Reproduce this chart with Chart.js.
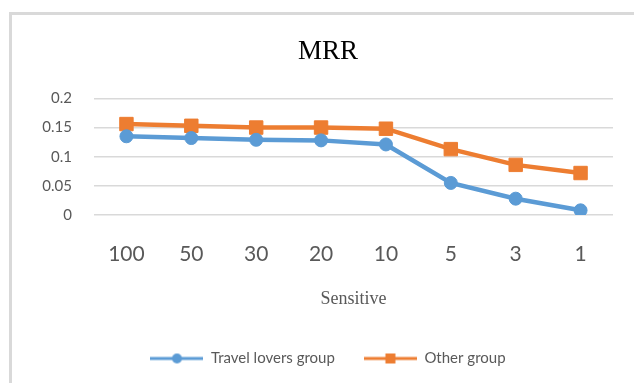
<!DOCTYPE html>
<html>
<head>
<meta charset="utf-8">
<title>MRR</title>
<script src="https://cdn.jsdelivr.net/npm/chart.js@4/dist/chart.umd.min.js"></script>
<style>
  html, body { margin: 0; padding: 0; background: #ffffff; overflow: hidden; }
  #wrap { position: absolute; left: 0; top: 0; width: 656px; height: 383px; }
</style>
</head>
<body>
<div id="wrap"><canvas id="chart" width="656" height="383"></canvas></div>
<script>
// Sensitivity settings along the x axis
const categories = ['100', '50', '30', '20', '10', '5', '3', '1'];
// MRR values per group
const travelLovers = [0.135, 0.132, 0.129, 0.128, 0.121, 0.055, 0.028, 0.008];
const otherGroup   = [0.156, 0.153, 0.150, 0.150, 0.148, 0.113, 0.086, 0.072];
const seriesNames  = ['Travel lovers group', 'Other group'];
const yTicks       = [0, 0.05, 0.1, 0.15, 0.2];

const BLUE = '#5B9BD5';
const ORANGE = '#ED7D31';
const GREY_TEXT = '#595959';
const GRID = '#d9d9d9';

// Small line-plus-marker swatch used in the legend
function legendSwatch(color, shape) {
  const c = document.createElement('canvas');
  c.width = 53; c.height = 16;
  const g = c.getContext('2d');
  g.strokeStyle = color; g.lineWidth = 3;
  g.beginPath(); g.moveTo(0, 8); g.lineTo(53, 8); g.stroke();
  g.fillStyle = color;
  if (shape === 'circle') {
    g.beginPath(); g.arc(26.5, 8, 5, 0, Math.PI * 2); g.fill();
  } else {
    g.fillRect(21.5, 3, 10, 10);
  }
  return c;
}

// Frame lines at the left and top of the chart
const framePlugin = {
  id: 'frame',
  beforeDraw(chart) {
    const ctx = chart.ctx;
    ctx.save();
    ctx.fillStyle = '#ffffff';
    ctx.fillRect(0, 0, chart.width, chart.height);
    ctx.strokeStyle = GRID;
    ctx.lineWidth = 3;
    ctx.beginPath();
    ctx.moveTo(10.5, chart.height + 5);
    ctx.lineTo(10.5, 13.5);
    ctx.lineTo(chart.width + 5, 13.5);
    ctx.stroke();
    ctx.restore();
  }
};

const swatches = [legendSwatch(BLUE, 'circle'), legendSwatch(ORANGE, 'rect')];

new Chart(document.getElementById('chart'), {
  type: 'line',
  data: {
    labels: categories,
    datasets: [
      {
        label: seriesNames[0],
        data: travelLovers,
        borderColor: BLUE,
        backgroundColor: BLUE,
        borderWidth: 4.5,
        pointStyle: 'circle',
        pointRadius: 6.5,
        pointBorderWidth: 1,
        pointBackgroundColor: BLUE,
        pointBorderColor: BLUE,
        tension: 0
      },
      {
        label: seriesNames[1],
        data: otherGroup,
        borderColor: ORANGE,
        backgroundColor: ORANGE,
        borderWidth: 4.5,
        pointStyle: 'rect',
        pointRadius: 9.5,
        pointBorderWidth: 1,
        pointBackgroundColor: ORANGE,
        pointBorderColor: ORANGE,
        tension: 0
      }
    ]
  },
  options: {
    responsive: false,
    animation: false,
    devicePixelRatio: 1,
    layout: { padding: { left: 0, right: 0, top: 0, bottom: 7 } },
    scales: {
      x: {
        offset: true,
        grid: { display: false, drawTicks: false },
        border: { display: false },
        ticks: { color: GREY_TEXT, padding: 27, font: { family: 'Lato', size: 21 } },
        title: {
          display: true,
          text: 'Sensitive',
          color: GREY_TEXT,
          font: { family: 'Liberation Serif', size: 18 },
          padding: { top: 22, bottom: 12 }
        },
        afterFit(scale) { scale.height = 107; }
      },
      y: {
        min: 0,
        max: 0.2,
        afterBuildTicks(scale) { scale.ticks = yTicks.map(v => ({ value: v })); },
        grid: { color: GRID, lineWidth: 1.5, drawTicks: false },
        border: { display: false },
        ticks: {
          color: GREY_TEXT,
          padding: 22,
          font: { family: 'Lato', size: 15 },
          callback: v => String(v)
        },
        afterFit(scale) { scale.width = 94; }
      },
      // empty margin on the right of the plot
      yRight: {
        position: 'right',
        min: 0,
        max: 0.2,
        grid: { display: false, drawTicks: false },
        border: { display: false },
        ticks: { display: false },
        afterFit(scale) { scale.width = 43; }
      }
    },
    plugins: {
      title: {
        display: true,
        text: 'MRR',
        color: '#000000',
        font: { family: 'Liberation Serif', size: 27, weight: 'normal' },
        padding: { top: 36, bottom: 30 }
      },
      legend: {
        position: 'bottom',
        labels: {
          usePointStyle: true,
          pointStyleWidth: 53,
          padding: 29,
          color: GREY_TEXT,
          font: { family: 'Lato', size: 15 },
          generateLabels(chart) {
            return chart.data.datasets.map((ds, i) => ({
              text: ds.label,
              pointStyle: swatches[i],
              fillStyle: ds.borderColor,
              strokeStyle: ds.borderColor,
              lineWidth: 0,
              fontColor: GREY_TEXT,
              hidden: false,
              datasetIndex: i
            }));
          }
        }
      },
      tooltip: { enabled: false }
    }
  },
  plugins: [framePlugin]
});
</script>
</body>
</html>
